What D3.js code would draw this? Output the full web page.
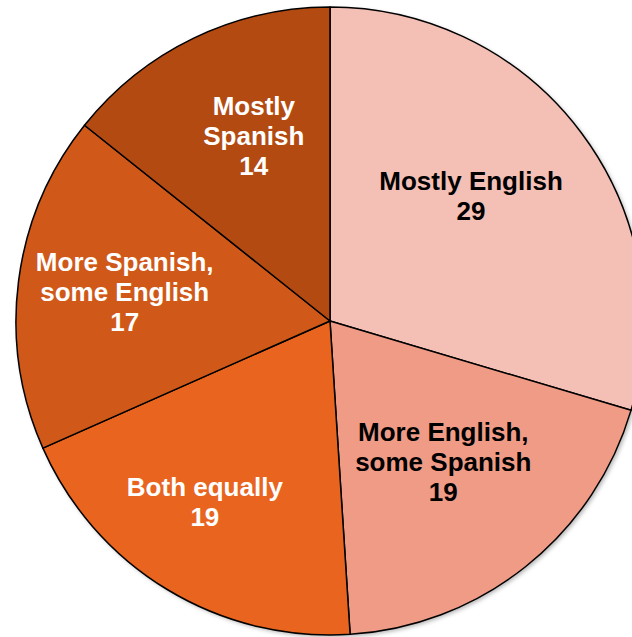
<!DOCTYPE html>
<html><head><meta charset="utf-8">
<script src="https://cdn.jsdelivr.net/npm/d3@7"></script>
<style>html,body{margin:0;padding:0;background:#fff;}svg{display:block;}</style>
</head><body>
<script>
const categories = ["Mostly English", "More English, some Spanish", "Both equally", "More Spanish, some English", "Mostly Spanish"];
const labelLines = [["Mostly English"], ["More English,", "some Spanish"], ["Both equally"], ["More Spanish,", "some English"], ["Mostly", "Spanish"]];
const values = [29, 19, 19, 17, 14];
const colors = ["#F4BFB5", "#F09B86", "#E8641F", "#D05818", "#B34A12"];
const textColors = ["#000", "#000", "#fff", "#fff", "#fff"];
// label nudges relative to the arc centroid (layout, not data)
const labelOffsets = [[-20, -5], [-12, -16], [-21, 9], [-6, -4], [11, -4]];

const W = 632, H = 637;
const cx = 330, cy = 321, R = 314;
const svg = d3.select("body").append("svg").attr("width", W).attr("height", H);
const defs = svg.append("defs");
const f = defs.append("filter").attr("id", "sh").attr("x", "-10%").attr("y", "-10%").attr("width", "120%").attr("height", "120%");
f.append("feDropShadow").attr("dx", 2).attr("dy", 2).attr("stdDeviation", 2).attr("flood-color", "#000").attr("flood-opacity", 0.3);

const data = categories.map((c, i) => ({c, v: values[i], i}));
const pie = d3.pie().value(d => d.v).sort(null);
const arcs = pie(data);
const arc = d3.arc().innerRadius(0).outerRadius(R);
const g = svg.append("g").attr("transform", `translate(${cx},${cy})`);
g.append("circle").attr("r", R).attr("fill", "#fff").attr("filter", "url(#sh)");
g.selectAll("path.s").data(arcs).join("path").attr("class", "s")
  .attr("d", arc).attr("fill", d => colors[d.data.i])
  .attr("stroke", "#000").attr("stroke-width", 1.5).attr("stroke-linejoin", "round");

const labelArc = d3.arc().innerRadius(R * 0.64).outerRadius(R * 0.64);
const lh = 30;
arcs.forEach(d => {
  const c = labelArc.centroid(d);
  const o = labelOffsets[d.data.i];
  const x = c[0] + o[0], y = c[1] + o[1];
  const lines = labelLines[d.data.i].concat([String(d.data.v)]);
  const t = g.append("text").attr("text-anchor", "middle")
    .attr("font-family", "Liberation Sans, Arial, sans-serif").attr("font-weight", "bold")
    .attr("font-size", 26).attr("fill", textColors[d.data.i]);
  lines.forEach((ln, k) => {
    t.append("tspan").attr("x", x).attr("y", y + (k - (lines.length - 1) / 2) * lh + 9.3).text(ln);
  });
});
</script>
</body></html>
